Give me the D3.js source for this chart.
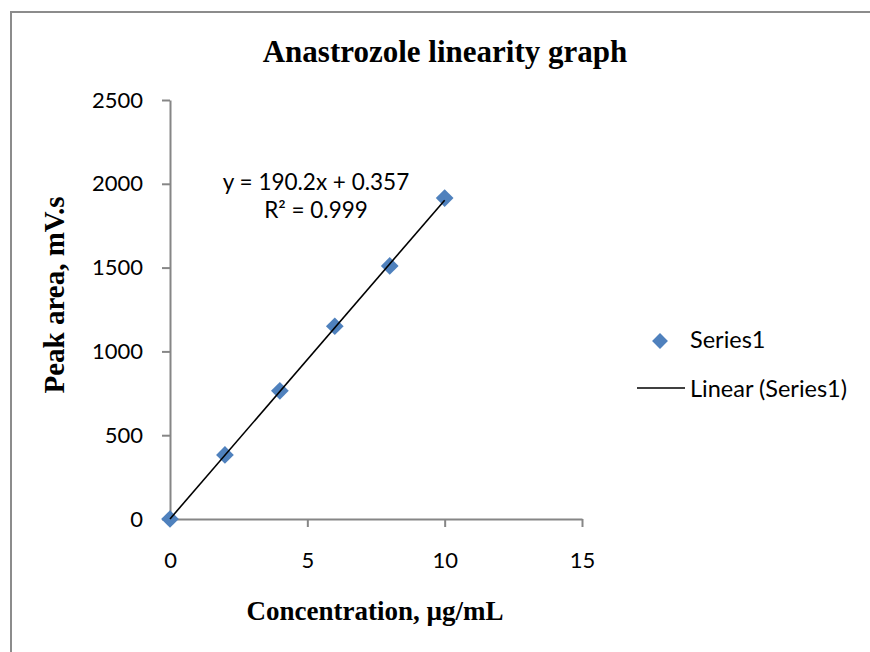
<!DOCTYPE html>
<html>
<head>
<meta charset="utf-8">
<script src="https://cdn.jsdelivr.net/npm/d3@7"></script>
<style>
  body { margin: 0; background: #fff; }
  svg text { fill: #000; }
</style>
</head>
<body>
<div id="chart"></div>
<script>
// data
var concentrations = [0, 2, 4, 6, 8, 10];
var peakAreas = [0, 382, 765, 1150, 1510, 1915];
var xTicks = [0, 5, 10, 15];
var yTicks = [0, 500, 1000, 1500, 2000, 2500];
var trendSlope = 190.2, trendIntercept = 0.357;
var equationLines = ["y = 190.2x + 0.357", "R² = 0.999"];
var legendLabels = ["Series1", "Linear (Series1)"];

var W = 870, H = 652;
var svg = d3.select("#chart").append("svg")
  .attr("width", W).attr("height", H);

// outer chart frame
svg.append("rect")
  .attr("x", 11).attr("y", 12)
  .attr("width", 880).attr("height", 700)
  .attr("fill", "none")
  .attr("stroke", "#8c8c8c")
  .attr("stroke-width", 2);

var x = d3.scaleLinear().domain([0, 15]).range([170, 582]);
var y = d3.scaleLinear().domain([0, 2500]).range([519, 100]);

var axisColor = "#868686";
var tickFont = "Lato, 'Open Sans', sans-serif";
var serif = "'Liberation Serif', 'Times New Roman', serif";

// y axis
var yAxis = svg.append("g")
  .attr("transform", "translate(" + x(0) + ",0)")
  .call(d3.axisLeft(y).tickValues(yTicks).tickFormat(d3.format("d"))
    .tickSize(8).tickPadding(19).tickSizeOuter(0));
// x axis
var xAxis = svg.append("g")
  .attr("transform", "translate(0," + y(0) + ")")
  .call(d3.axisBottom(x).tickValues(xTicks).tickFormat(d3.format("d"))
    .tickSize(8).tickPadding(25).tickSizeOuter(0));

[xAxis, yAxis].forEach(function(g) {
  g.select(".domain").attr("stroke", axisColor).attr("stroke-width", 2);
  g.selectAll(".tick line").attr("stroke", axisColor).attr("stroke-width", 2);
  g.selectAll(".tick text")
    .attr("font-family", tickFont)
    .attr("font-size", "22px")
    .attr("fill", "#000");
});
// zero tick of x axis is hidden behind y axis in the reference
xAxis.selectAll(".tick").filter(function(d) { return d === 0; }).select("line").remove();

// markers
var diamond = d3.symbol().type(d3.symbolDiamond2).size(200);
svg.selectAll("path.pt")
  .data(concentrations)
  .enter()
  .append("path")
  .attr("class", "pt")
  .attr("d", diamond)
  .attr("transform", function(d, i) {
    return "translate(" + x(d) + "," + y(peakAreas[i]) + ")";
  })
  .attr("fill", "#4f81bd");

// trend line drawn over the markers, as excel does
svg.append("line")
  .attr("x1", x(0)).attr("y1", y(trendIntercept))
  .attr("x2", x(10)).attr("y2", y(trendSlope * 10 + trendIntercept))
  .attr("stroke", "#000")
  .attr("stroke-width", 1.6);

// equation
svg.selectAll("text.eq")
  .data(equationLines)
  .enter()
  .append("text")
  .attr("class", "eq")
  .attr("x", 316)
  .attr("y", function(d, i) { return 190 + i * 28; })
  .attr("text-anchor", "middle")
  .attr("font-family", tickFont)
  .attr("font-size", "22.5px")
  .text(function(d) { return d; });

// title and axis titles
svg.append("text")
  .attr("x", 445).attr("y", 62)
  .attr("text-anchor", "middle")
  .attr("font-family", serif)
  .attr("font-weight", "bold")
  .attr("font-size", "31px")
  .text("Anastrozole linearity graph");

svg.append("text")
  .attr("transform", "translate(64,295) rotate(-90)")
  .attr("text-anchor", "middle")
  .attr("font-family", serif)
  .attr("font-weight", "bold")
  .attr("font-size", "29px")
  .text("Peak area, mV.s");

svg.append("text")
  .attr("x", 375).attr("y", 620)
  .attr("text-anchor", "middle")
  .attr("font-family", serif)
  .attr("font-weight", "bold")
  .attr("font-size", "27px")
  .text("Concentration, µg/mL");

// legend
var legend = svg.append("g");
legend.append("path")
  .attr("d", d3.symbol().type(d3.symbolDiamond2).size(160))
  .attr("transform", "translate(660,341)")
  .attr("fill", "#4f81bd");
legend.append("line")
  .attr("x1", 637).attr("x2", 685)
  .attr("y1", 388).attr("y2", 388)
  .attr("stroke", "#000").attr("stroke-width", 1.6);
legend.selectAll("text")
  .data(legendLabels)
  .enter()
  .append("text")
  .attr("x", 690)
  .attr("y", function(d, i) { return 348 + i * 49; })
  .attr("font-family", tickFont)
  .attr("font-size", "23.5px")
  .text(function(d) { return d; });
</script>
</body>
</html>
